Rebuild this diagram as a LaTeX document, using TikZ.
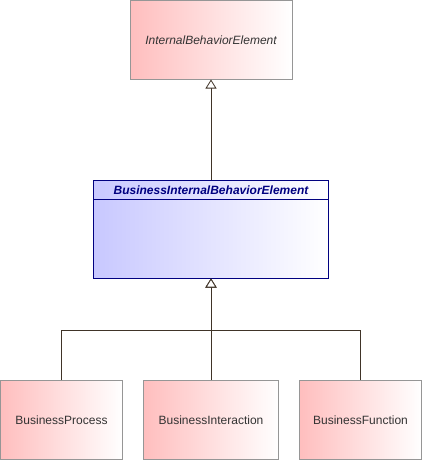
\documentclass[tikz,border=0pt]{standalone}
\usepackage{fontspec}
\setmainfont{Liberation Sans}
\usetikzlibrary{arrows.meta,positioning}

\definecolor{elemred}{RGB}{255,190,190}
\definecolor{elemblue}{RGB}{200,200,255}
\definecolor{elemborder}{RGB}{150,150,150}
\definecolor{linkcol}{RGB}{64,52,40}
\definecolor{titlecol}{RGB}{0,0,128}

\begin{document}
\begin{tikzpicture}[
  x=1pt, y=-1pt,
  font=\fontsize{12}{14}\selectfont,
  elem/.style={draw=elemborder, line width=1pt, left color=elemred, right color=white,
    minimum width=#1, inner sep=0pt, text=black!80},
  elem/.default=122pt,
  absbox/.style={draw=titlecol, line width=1pt, left color=elemblue, right color=white,
    minimum width=235pt, minimum height=98pt, inner sep=0pt},
  gen/.style={draw=linkcol, line width=0.8pt, -{Triangle[open, length=9pt, width=11pt, fill=white]}}
]
\useasboundingbox (0,0) rectangle (423,460);

% parent element
\node[elem=162pt, minimum height=78pt, font=\fontsize{12}{14}\selectfont\itshape] (ibe) at (211,40) {InternalBehaviorElement};

% abstract business element
\node[absbox] (bibe) at (211,229) {};
\draw[titlecol, line width=1pt] ([yshift=-20pt]bibe.north west) -- ([yshift=-20pt]bibe.north east);
\node[font=\fontsize{12}{14}\selectfont\bfseries\itshape, text=titlecol, below=3pt of bibe.north] (bibetitle) {BusinessInternalBehaviorElement};

% concrete business behaviours
\node[elem, minimum height=79pt] (bproc) at (61.5,420) {BusinessProcess};
\node[elem=135pt, minimum height=79pt] (binter) at (211,420) {BusinessInteraction};
\node[elem, minimum height=79pt] (bfunc) at (360.5,420) {BusinessFunction};

\coordinate (split) at (211,330);

\draw[gen] (bibe.north) -- (ibe.south);
\draw[gen] (bproc.north) |- (split) -- (bibe.south);
\draw[gen] (bfunc.north) |- (split) -- (bibe.south);
\draw[gen] (binter.north) -- (bibe.south);

\end{tikzpicture}
\end{document}
